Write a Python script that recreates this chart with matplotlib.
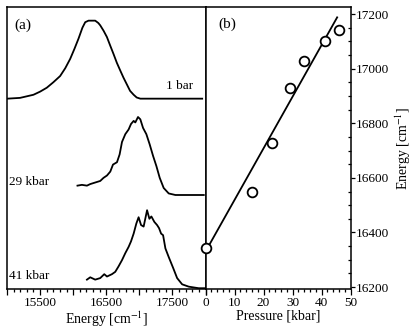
import numpy as np
import matplotlib
matplotlib.use("Agg")
import matplotlib.pyplot as plt
from matplotlib.ticker import MultipleLocator, FuncFormatter

plt.rcParams['font.family'] = ['Liberation Serif', 'DejaVu Serif']
plt.rcParams['mathtext.fontset'] = 'stix'

# spectra: energy [cm-1] and normalised intensity
e_1bar = [15005, 15197, 15400, 15500, 15601, 15700, 15803, 15880, 15955, 16020,
          16081, 16140, 16182, 16232, 16333, 16380, 16409, 16460, 16510, 16560,
          16611, 16660, 16712, 16760, 16813, 16860, 16914, 16960, 17015, 17950]
i_1bar = [0.0, 0.01, 0.05, 0.09, 0.14, 0.21, 0.29, 0.39, 0.51, 0.64,
          0.77, 0.91, 0.98, 1.0, 1.0, 0.97, 0.94, 0.87, 0.79, 0.68,
          0.57, 0.46, 0.36, 0.27, 0.18, 0.10, 0.05, 0.015, 0.0, 0.0]

e_29kbar = [16065, 16132, 16208, 16258, 16333, 16409, 16459, 16511, 16561, 16602,
            16662, 16702, 16738, 16788, 16838, 16874, 16914, 16939, 16980, 17015,
            17056, 17106, 17156, 17208, 17258, 17308, 17368, 17444, 17545, 17974]
i_29kbar = [0.12, 0.13, 0.12, 0.14, 0.16, 0.18, 0.22, 0.25, 0.30, 0.39,
            0.42, 0.52, 0.68, 0.78, 0.84, 0.91, 0.95, 0.93, 1.0, 0.97,
            0.86, 0.78, 0.65, 0.50, 0.37, 0.22, 0.09, 0.02, 0.0, 0.0]

e_41kbar = [16208, 16258, 16333, 16409, 16470, 16511, 16586, 16636, 16686, 16738,
            16788, 16838, 16874, 16914, 16955, 16989, 17026, 17065, 17117, 17152,
            17182, 17227, 17268, 17298, 17329, 17359, 17394, 17444, 17511, 17571,
            17647, 17747, 17898, 18000]
i_41kbar = [0.11, 0.14, 0.11, 0.13, 0.18, 0.15, 0.18, 0.21, 0.28, 0.36,
            0.45, 0.53, 0.60, 0.70, 0.83, 0.91, 0.81, 0.79, 1.0, 0.89,
            0.92, 0.85, 0.81, 0.77, 0.70, 0.68, 0.51, 0.40, 0.26, 0.13,
            0.05, 0.02, 0.0, 0.0]

spec_labels = ["1 bar", "29 kbar", "41 kbar"]
offsets = [2.44, 1.205, 0.01]

energy_ticklabels = ["15500", "16500", "17500"]

# panel (b): band maximum vs pressure
pressure = [0, 15.9, 23.0, 29.2, 34.1, 41.1, 45.9]
band_max = [16344, 16550, 16728, 16929, 17030, 17100, 17141]
fit_intercept = 16330
fit_slope = 18.9
fit_range = [0, 45.4]

fig = plt.figure(figsize=(4.13, 3.31), dpi=100)
ax1 = fig.add_axes([7 / 413, 42 / 331, 198.5 / 413, 282 / 331])
ax2 = fig.add_axes([205.5 / 413, 42 / 331, 145 / 413, 282 / 331])

# panel (a)
spectra = [(e_1bar, i_1bar), (e_29kbar, i_29kbar), (e_41kbar, i_41kbar)]
for (e, i), off in zip(spectra, offsets):
    ax1.plot(e, np.array(i) + off, color='black', lw=1.3)

ax1.set_xlim(15000, 18000)
ax1.set_ylim(0, 3.615)
ax1.set_yticks([])
ax1.xaxis.set_major_locator(MultipleLocator(500))
ax1.xaxis.set_minor_locator(MultipleLocator(100))
ax1.xaxis.set_major_formatter(FuncFormatter(
    lambda v, p: f"{v:.0f}" if f"{v:.0f}" in energy_ticklabels else ""))
ax1.tick_params(axis='x', which='major', length=4.5, width=0.9, pad=1.5,
                labelsize=9.5, direction='out')
ax1.tick_params(axis='x', which='minor', length=2.5, width=0.9, direction='out')
ax1.set_xlabel("Energy [cm$^{-1}$]", fontsize=10, labelpad=0)

ax1.text(15110, 3.38, "(a)", fontsize=11, va='center')
ax1.text(17820, 2.6, spec_labels[0], fontsize=9.5, ha='right', va='center')
ax1.text(15030, 1.37, spec_labels[1], fontsize=9.5, ha='left', va='center')
ax1.text(15030, 0.17, spec_labels[2], fontsize=9.5, ha='left', va='center')

# panel (b)
p_fit = np.array(fit_range)
ax2.plot(p_fit, fit_intercept + fit_slope * p_fit, color='black', lw=1.3)
ax2.plot(pressure, band_max, 'o', mfc='white', mec='black', mew=1.3, ms=7,
         clip_on=False, zorder=3)

ax2.set_xlim(0, 50)
ax2.set_ylim(16193, 17226)
ax2.xaxis.set_major_locator(MultipleLocator(10))
ax2.xaxis.set_minor_locator(MultipleLocator(2))
ax2.yaxis.set_major_locator(MultipleLocator(200))
ax2.yaxis.set_minor_locator(MultipleLocator(50))
ax2.yaxis.tick_right()
ax2.yaxis.set_label_position('right')
ax2.tick_params(axis='x', which='major', length=4.5, width=0.9, pad=1.5,
                labelsize=9.5, direction='out')
ax2.tick_params(axis='x', which='minor', length=2.5, width=0.9, direction='out')
ax2.tick_params(axis='y', which='major', length=3, width=0.9, pad=1,
                labelsize=9.5, direction='out')
ax2.tick_params(axis='y', which='minor', length=2.5, width=0.9, direction='in')
ax2.set_xlabel("Pressure [kbar]", fontsize=10, labelpad=0)
ax2.set_ylabel("Energy [cm$^{-1}$]", fontsize=10, labelpad=3)
ax2.text(4.5, 17162, "(b)", fontsize=11, va='center')

for ax in (ax1, ax2):
    for s in ax.spines.values():
        s.set_linewidth(1.1)

fig.savefig("out.png", dpi=100)
